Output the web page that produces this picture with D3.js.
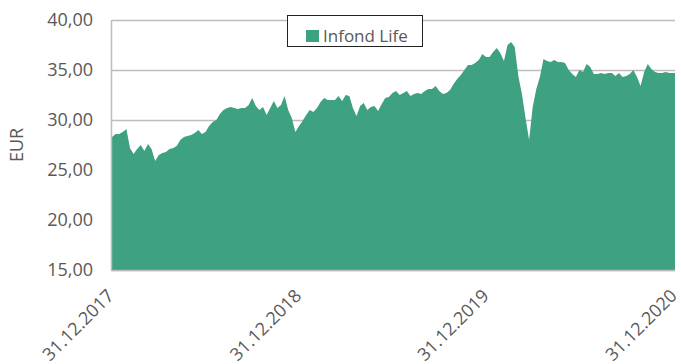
<!DOCTYPE html>
<html>
<head>
<meta charset="utf-8">
<script src="https://cdn.jsdelivr.net/npm/d3@7"></script>
<style>
  html, body { margin: 0; padding: 0; background: #fff; }
  svg { display: block; }
  text { font-family: "Open Sans", sans-serif; fill: #595959; }
</style>
</head>
<body>
<svg id="chart" width="681" height="364"></svg>
<script>
// Infond Life unit price (EUR), weekly closes from 31.12.2017 to 31.12.2020
const seriesName = "Infond Life";
const startDate = new Date(2017, 11, 31);
const endDate = new Date(2020, 11, 31);
const values = [
  28.3, 28.6, 28.6, 28.8, 29.1, 27.2, 26.6, 27.1, 27.5, 26.9,
  27.6, 27.1, 25.9, 26.5, 26.7, 26.8, 27.1, 27.2, 27.4, 28.0,
  28.3, 28.4, 28.5, 28.7, 29.0, 28.6, 28.8, 29.4, 29.8, 30.0,
  30.6, 31.0, 31.2, 31.3, 31.2, 31.1, 31.2, 31.2, 31.5, 32.2,
  31.4, 31.0, 31.3, 30.5, 31.2, 31.9, 31.2, 31.5, 32.4, 31.0,
  30.2, 28.8, 29.4, 29.9, 30.5, 31.0, 30.8, 31.2, 31.8, 32.2,
  32.0, 32.0, 32.0, 32.4, 31.9, 32.5, 32.4, 31.2, 30.4, 31.4,
  31.7, 31.0, 31.3, 31.4, 30.9, 31.6, 32.2, 32.3, 32.7, 32.9,
  32.5, 32.7, 32.9, 32.4, 32.6, 32.7, 32.6, 32.9, 33.1, 33.1,
  33.4, 32.9, 32.6, 32.7, 33.0, 33.6, 34.1, 34.5, 35.0, 35.5,
  35.5, 35.7, 36.0, 36.6, 36.3, 36.3, 36.8, 37.2, 36.7, 35.9,
  37.5, 37.8, 37.3, 34.4, 32.6, 30.2, 28.0, 31.3, 33.1, 34.3,
  36.1, 35.9, 35.8, 36.0, 35.8, 35.8, 35.7, 35.0, 34.6, 34.3,
  35.0, 34.8, 35.6, 35.3, 34.6, 34.6, 34.7, 34.6, 34.7, 34.7,
  34.4, 34.7, 34.3, 34.4, 34.6, 35.0, 34.3, 33.4, 34.8, 35.6,
  35.1, 34.8, 34.7, 34.7, 34.8, 34.7, 34.7,
  34.7
];
const xTickDates = [
  new Date(2017, 11, 31), new Date(2018, 11, 31),
  new Date(2019, 11, 31), new Date(2020, 11, 31)
];
const yTicks = [15, 20, 25, 30, 35, 40];
const yTitle = "EUR";

// observation dates: every 7 days from the start, closing on the final day
const dates = d3.timeDay.range(startDate, endDate, 7);
dates.push(endDate);
const data = dates.map((d, i) => ({ date: d, value: values[i] }));

const svg = d3.select("#chart");
const plot = { left: 112, right: 675, top: 20, bottom: 270 };
const green = "#3da182";
const gridColor = "#bdbdbd";

const x = d3.scaleTime().domain([startDate, endDate]).range([plot.left, plot.right]);
const y = d3.scaleLinear().domain([15, 40]).range([plot.bottom, plot.top]);

const locale = d3.formatLocale({ decimal: ",", thousands: ".", grouping: [3], currency: ["", " €"] });
const fmtY = locale.format(".2f");
const fmtX = d3.timeFormat("%d.%m.%Y");

// horizontal gridlines
svg.append("g")
  .attr("transform", `translate(${plot.left},0)`)
  .call(d3.axisLeft(y).tickValues(yTicks).tickSize(-(plot.right - plot.left)).tickFormat(""))
  .call(g => g.select(".domain").remove())
  .call(g => g.selectAll("line").attr("stroke", gridColor).attr("stroke-width", 1.5));

// area
svg.append("path")
  .datum(data)
  .attr("fill", green)
  .attr("d", d3.area().x(d => x(d.date)).y0(y(15)).y1(d => y(d.value)));

// axis lines
svg.append("line")
  .attr("x1", plot.left - 0.5).attr("x2", plot.left - 0.5)
  .attr("y1", plot.top).attr("y2", plot.bottom + 1)
  .attr("stroke", gridColor).attr("stroke-width", 1.5);
svg.append("line")
  .attr("x1", plot.left - 1).attr("x2", plot.right)
  .attr("y1", plot.bottom + 0.5).attr("y2", plot.bottom + 0.5)
  .attr("stroke", gridColor).attr("stroke-width", 1.5);

// y tick labels
svg.append("g")
  .attr("transform", `translate(${plot.left},0)`)
  .call(d3.axisLeft(y).tickValues(yTicks).tickSize(0).tickPadding(19).tickFormat(fmtY))
  .call(g => g.select(".domain").remove())
  .call(g => g.selectAll("text")
    .attr("font-family", "Open Sans, sans-serif")
    .attr("font-size", 18)
    .attr("fill", "#595959"));

// x tick labels, rotated
svg.append("g")
  .selectAll("text")
  .data(xTickDates)
  .join("text")
  .attr("transform", d => `translate(${x(d) + 3},${297}) rotate(-45)`)
  .attr("text-anchor", "end")
  .attr("font-size", 18)
  .text(d => fmtX(d));

// y axis title
svg.append("text")
  .attr("transform", "translate(23,145) rotate(-90)")
  .attr("text-anchor", "middle")
  .attr("font-size", 18)
  .text(yTitle);

// legend
const legend = svg.append("g");
legend.append("rect")
  .attr("x", 287.5).attr("y", 15.5).attr("width", 135).attr("height", 31)
  .attr("fill", "#fff").attr("stroke", "#222").attr("stroke-width", 1);
legend.append("rect")
  .attr("x", 306).attr("y", 30).attr("width", 13).attr("height", 12)
  .attr("fill", green);
legend.append("text")
  .attr("x", 323).attr("y", 42)
  .attr("font-size", 17)
  .text(seriesName);
</script>
</body>
</html>
